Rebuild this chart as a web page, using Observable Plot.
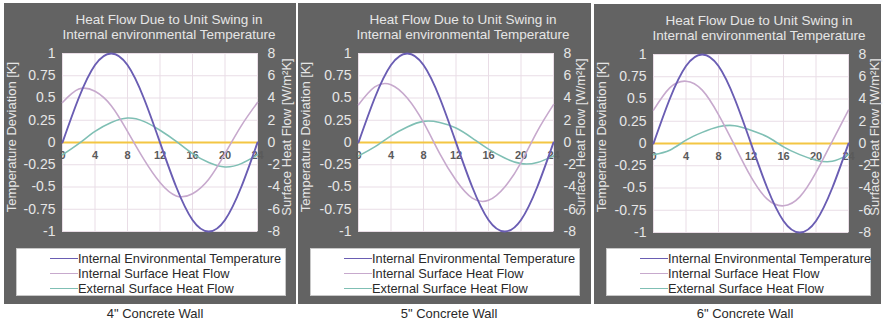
<!DOCTYPE html>
<html>
<head>
<meta charset="utf-8">
<script src="https://cdn.jsdelivr.net/npm/d3@7"></script>
<script src="https://cdn.jsdelivr.net/npm/@observablehq/plot@0.6"></script>
<style>
  html, body { margin: 0; padding: 0; background: #ffffff; }
  body { width: 883px; height: 324px; position: relative; overflow: hidden; font-family: "Liberation Sans", Arial, sans-serif; }
  .panel { position: absolute; background: #636363; }
  .title { position: absolute; top: 9px; width: 300px; text-align: center; color: #e6e6e6; font-size: 13.5px; line-height: 15px; }
  .chart { position: absolute; left: 0; top: 38px; }
  .axtitle { position: absolute; white-space: nowrap; color: #e6e6e6; font-size: 13px; line-height: 14px; transform: translate(-50%, -50%) rotate(-90deg); }
  .legend { position: absolute; background: #ffffff; border: 1px solid #c8c8c8; box-sizing: border-box; color: #2a2a2a; font-size: 12.8px; }
  .row { position: absolute; left: 33px; height: 15px; line-height: 15px; white-space: nowrap; }
  .swatch { display: inline-block; width: 28px; height: 0; vertical-align: middle; border-top-width: 1.5px; border-top-style: solid; margin-top: -2px; }
  .caption { position: absolute; width: 300px; text-align: center; color: #2a2a2a; font-size: 13px; }
</style>
</head>
<body>
<script>
// ---- data ----
const hours = [0, 2, 4, 6, 8, 10, 12, 14, 16, 18, 20, 22, 24];
// Internal environmental temperature deviation [K] (same in all three charts)
const temperature = [0, 0.5, 0.87, 1, 0.87, 0.5, 0, -0.5, -0.87, -1, -0.87, -0.5, 0];
// Surface heat flows [W/m²K]
const internalFlow4 = [3.6, 4.8, 4.6, 3.3, 1.0, -1.5, -3.6, -4.8, -4.6, -3.3, -1.0, 1.5, 3.6];
const externalFlow4 = [-1.1, -0.1, 1.0, 1.8, 2.2, 1.9, 1.1, 0.1, -1.0, -1.8, -2.2, -1.9, -1.1];
const internalFlow5 = [3.4, 5.0, 5.2, 4.0, 1.8, -1.0, -3.4, -5.0, -5.2, -4.0, -1.8, 1.0, 3.4];
const externalFlow5 = [-1.2, -0.4, 0.6, 1.4, 1.9, 1.8, 1.3, 0.4, -0.6, -1.4, -1.9, -1.8, -1.2];
const internalFlow6 = [3.0, 5.0, 5.6, 4.8, 2.6, -0.2, -3.0, -5.0, -5.6, -4.8, -2.6, 0.2, 3.0];
const externalFlow6 = [-1.0, -0.6, 0.3, 1.0, 1.5, 1.6, 1.2, 0.6, -0.3, -1.0, -1.5, -1.6, -1.0];

const wallNames = ['4" Concrete Wall', '5" Concrete Wall', '6" Concrete Wall'];
const seriesNames = ["Internal Environmental Temperature", "Internal Surface Heat Flow", "External Surface Heat Flow"];
const chartTitle = ["Heat Flow Due to Unit Swing in", "Internal environmental Temperature"];
const leftAxisTitle = "Temperature Deviation [K]";
const rightAxisTitle = "Surface Heat Flow [W/m²K]";
const tempTicks = [-1, -0.75, -0.5, -0.25, 0, 0.25, 0.5, 0.75, 1];
const hourTicks = [0, 4, 8, 12, 16, 20, 24];
const flowPerK = 8; // right axis: 8 W/m²K corresponds to 1 K on the left axis

// ---- layout ----
const colors = ["#6a5db3", "#c7a9cd", "#7fbfb4"];
const panels = [
  {left: 4, top: 3, width: 292, height: 301, ml: 58, internal: internalFlow4, external: externalFlow4},
  {left: 298, top: 3, width: 293, height: 301, ml: 60, internal: internalFlow5, external: externalFlow5},
  {left: 594, top: 4, width: 287, height: 300, ml: 59, internal: internalFlow6, external: externalFlow6}
];
const plotW = 195;

panels.forEach((p, k) => {
  const div = document.createElement("div");
  div.className = "panel";
  Object.assign(div.style, {left: p.left + "px", top: p.top + "px", width: p.width + "px", height: p.height + "px"});
  document.body.appendChild(div);

  const t = document.createElement("div");
  t.className = "title";
  t.style.left = (165 - 150) + "px";
  t.innerHTML = chartTitle.join("<br>");
  div.appendChild(t);

  const tempData = hours.map((h, i) => ({h, v: temperature[i]}));
  const intData = hours.map((h, i) => ({h, v: p.internal[i]}));
  const extData = hours.map((h, i) => ({h, v: p.external[i]}));

  const chart = Plot.plot({
    width: p.width,
    height: 202,
    marginLeft: p.ml,
    marginRight: p.width - p.ml - plotW,
    marginTop: 12,
    marginBottom: 12,
    style: {background: "transparent", color: "#e6e6e6", fontFamily: "'Liberation Sans', Arial, sans-serif", fontSize: "14px", overflow: "visible"},
    x: {domain: [0, 24], axis: null},
    y: {domain: [-1, 1], axis: null},
    marks: [
      Plot.frame({fill: "white", stroke: null}),
      Plot.gridY({ticks: tempTicks, stroke: "#e9dde6", strokeOpacity: 1}),
      Plot.gridX({ticks: hourTicks, stroke: "#e9dde6", strokeOpacity: 1}),
      Plot.ruleY([0], {stroke: "#f3c643", strokeWidth: 2.2}),
      Plot.text(hourTicks, {x: d => d, y: 0, dy: 13, text: d => String(d), fill: "#5a5a5a", fontSize: 11, fontWeight: "bold"}),
      Plot.line(extData, {x: "h", y: d => d.v / flowPerK, stroke: colors[2], strokeWidth: 1.6, curve: "natural"}),
      Plot.line(intData, {x: "h", y: d => d.v / flowPerK, stroke: colors[1], strokeWidth: 1.6, curve: "natural"}),
      Plot.line(tempData, {x: "h", y: "v", stroke: colors[0], strokeWidth: 1.9, curve: "natural"}),
      Plot.axisY({ticks: tempTicks, anchor: "left", tickSize: 0, tickPadding: 7, tickFormat: d => String(d), label: null, fontSize: 14}),
      Plot.axisY({ticks: tempTicks, anchor: "right", tickSize: 0, tickPadding: 10, tickFormat: d => String(d * flowPerK), label: null, fontSize: 14})
    ]
  });
  chart.classList.add("chart");
  div.appendChild(chart);

  const lt = document.createElement("div");
  lt.className = "axtitle";
  lt.style.left = "8px";
  lt.style.top = (137 - p.top) + "px";
  lt.textContent = leftAxisTitle;
  div.appendChild(lt);

  const rt = document.createElement("div");
  rt.className = "axtitle";
  rt.style.left = (k === 2 ? 281 : 283) + "px";
  rt.style.top = (137 - p.top) + "px";
  rt.textContent = rightAxisTitle;
  div.appendChild(rt);

  const lg = document.createElement("div");
  lg.className = "legend";
  Object.assign(lg.style, {left: "12px", top: (248 - p.top) + "px", width: (p.width - 12 - (k === 1 ? 11 : 10)) + "px", height: "48px"});
  seriesNames.forEach((name, i) => {
    const r = document.createElement("div");
    r.className = "row";
    r.style.top = (2 + i * 15) + "px";
    const sw = document.createElement("span");
    sw.className = "swatch";
    sw.style.borderTopColor = colors[i];
    r.appendChild(sw);
    r.appendChild(document.createTextNode(name));
    lg.appendChild(r);
  });
  div.appendChild(lg);

  const c = document.createElement("div");
  c.className = "caption";
  c.style.left = (p.left + 151 - 150) + "px";
  c.style.top = "306px";
  c.textContent = wallNames[k];
  document.body.appendChild(c);
});
</script>
</body>
</html>
